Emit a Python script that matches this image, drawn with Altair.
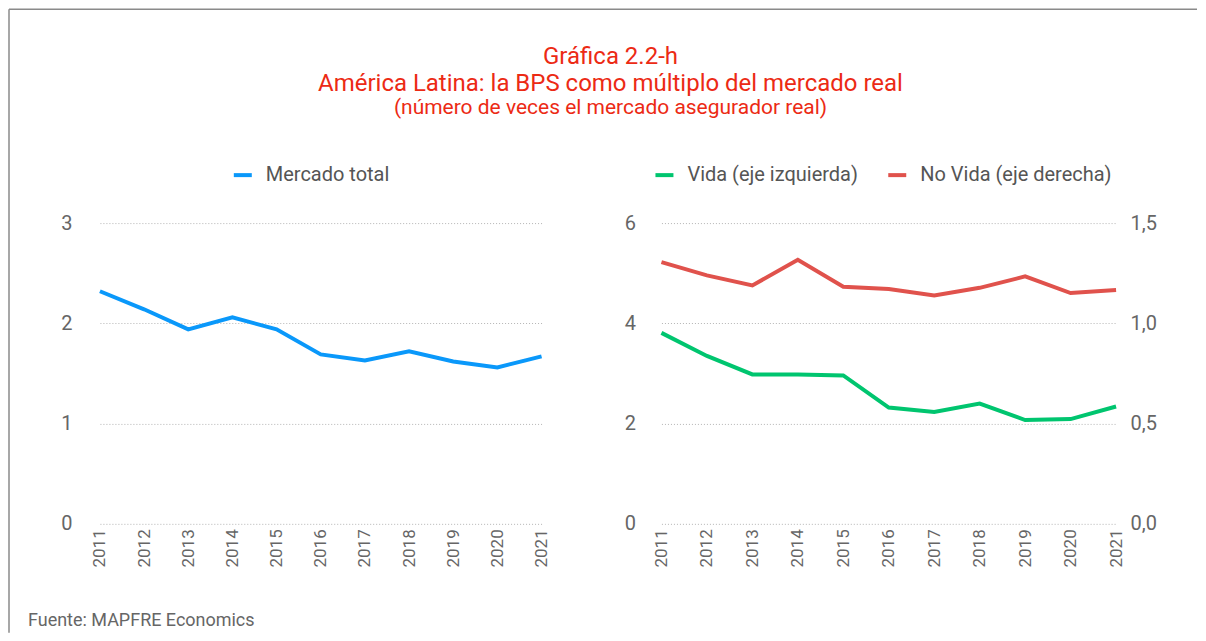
import altair as alt
import pandas as pd

# ---------------- data ----------------
years = ["2011", "2012", "2013", "2014", "2015", "2016", "2017", "2018", "2019", "2020", "2021"]
mercado_total = [2.32, 2.14, 1.94, 2.06, 1.94, 1.69, 1.63, 1.72, 1.62, 1.56, 1.67]
vida = [3.81, 3.35, 2.98, 2.98, 2.96, 2.32, 2.23, 2.40, 2.07, 2.09, 2.34]
no_vida = [1.305, 1.239, 1.189, 1.317, 1.182, 1.171, 1.139, 1.177, 1.234, 1.151, 1.166]

left_ticks = [0, 1, 2, 3]
right_left_ticks = [0, 2, 4, 6]
right_right_ticks = [0, 0.5, 1.0, 1.5]

serie_total = ["Mercado total"]
series_right = ["Vida (eje izquierda)", "No Vida (eje derecha)"]

title_lines = [
    "Gráfica 2.2-h",
    "América Latina: la BPS como múltiplo del mercado real",
    "(número de veces el mercado asegurador real)",
]
footnote = "Fuente: MAPFRE Economics"

# ---------------- style ----------------
FONT = "Roboto"
BLUE = "#0A98FA"
GREEN = "#00C56F"
RED = "#E0524C"
TITLE_RED = "#EC2A14"
TXT = "#666666"
GRID = "#b4b4b4"

W_LEFT, W_RIGHT, H = 442, 455, 301

left_df = pd.DataFrame({"year": years, "value": mercado_total, "serie": serie_total[0]})
vida_df = pd.DataFrame({"year": years, "value": vida, "serie": series_right[0]})
novida_df = pd.DataFrame({"year": years, "value": no_vida, "serie": series_right[1]})
one = pd.DataFrame({"k": [0]})


def x_enc():
    return alt.X(
        "year:O",
        sort=years,
        scale=alt.Scale(type="point", padding=0),
        axis=alt.Axis(
            title=None, labelAngle=-90, labelFontSize=17, labelColor=TXT,
            ticks=False, domain=False, grid=False, labelPadding=5, labelFont=FONT,
        ),
    )


def legend(x, y):
    return alt.Legend(
        title=None, orient="none", legendX=x, legendY=y, direction="horizontal",
        symbolType="stroke", symbolStrokeWidth=4, symbolSize=324,
        labelFontSize=20, labelColor="#555555", labelFont=FONT, labelLimit=0,
        labelOffset=12, columnPadding=22,
    )


def y_axis(values, pad, orient="left", grid=True, expr=None):
    kw = dict(
        title=None, orient=orient, values=values, labelFontSize=20, labelColor=TXT,
        ticks=False, domain=False, labelPadding=pad, grid=grid, labelFont=FONT,
    )
    if grid:
        kw.update(gridColor=GRID, gridDash=[1, 2], gridWidth=1)
    if expr:
        kw["labelExpr"] = expr
    return alt.Axis(**kw)


# ---------------- left panel ----------------
left_line = alt.Chart(left_df).mark_line(strokeWidth=4).encode(
    x=x_enc(),
    y=alt.Y("value:Q", scale=alt.Scale(domain=[0, 3]), axis=y_axis(left_ticks, 28)),
    color=alt.Color(
        "serie:N",
        scale=alt.Scale(domain=serie_total, range=[BLUE]),
        legend=legend(132, -59),
    ),
)

title_layers = []
title_specs = [(title_lines[0], 24, -159), (title_lines[1], 24, -132), (title_lines[2], 21, -109)]
for txt, size, yy in title_specs:
    title_layers.append(
        alt.Chart(pd.DataFrame({"t": [txt]})).mark_text(
            font=FONT, fontSize=size, fontWeight="normal", color=TITLE_RED,
            align="center", baseline="alphabetic"
        ).encode(text="t:N", x=alt.value(511), y=alt.value(yy))
    )

foot = alt.Chart(pd.DataFrame({"t": [footnote]})).mark_text(
    font=FONT, fontSize=18, color=TXT, align="left", baseline="alphabetic"
).encode(text="t:N", x=alt.value(-72), y=alt.value(403))

frame_left = alt.Chart(one).mark_rule(color="#8a8a8a", strokeWidth=1.5).encode(
    x=alt.value(-91), y=alt.value(-214), y2=alt.value(410)
)
frame_top = alt.Chart(one).mark_rule(color="#8a8a8a", strokeWidth=1.5).encode(
    x=alt.value(-91), x2=alt.value(1098), y=alt.value(-214)
)

left = alt.layer(frame_left, frame_top, *title_layers, foot, left_line).properties(
    width=W_LEFT, height=H
)

# ---------------- right panel ----------------
color_r = alt.Color(
    "serie:N",
    scale=alt.Scale(domain=series_right, range=[GREEN, RED]),
    legend=legend(-8, -59),
)

green = alt.Chart(vida_df).mark_line(strokeWidth=4).encode(
    x=x_enc(),
    y=alt.Y("value:Q", scale=alt.Scale(domain=[0, 6]), axis=y_axis(right_left_ticks, 26)),
    color=color_r,
)

red = alt.Chart(novida_df).mark_line(strokeWidth=4).encode(
    x=x_enc(),
    y=alt.Y(
        "value:Q",
        scale=alt.Scale(domain=[0, 1.5]),
        axis=y_axis(right_right_ticks, 14, orient="right", grid=False,
                    expr="replace(format(datum.value, '.1f'), '.', ',')"),
    ),
    color=color_r,
)

right = alt.layer(green, red).resolve_scale(y="independent").properties(
    width=W_RIGHT, height=H
)

chart = (
    alt.hconcat(left, right, spacing=120, bounds="flush")
    .resolve_scale(color="independent")
    .properties(padding=0)
    .configure(font=FONT)
    .configure_view(stroke=None)
)

chart.save("out.html", embed_options={"renderer": "svg", "actions": False})
